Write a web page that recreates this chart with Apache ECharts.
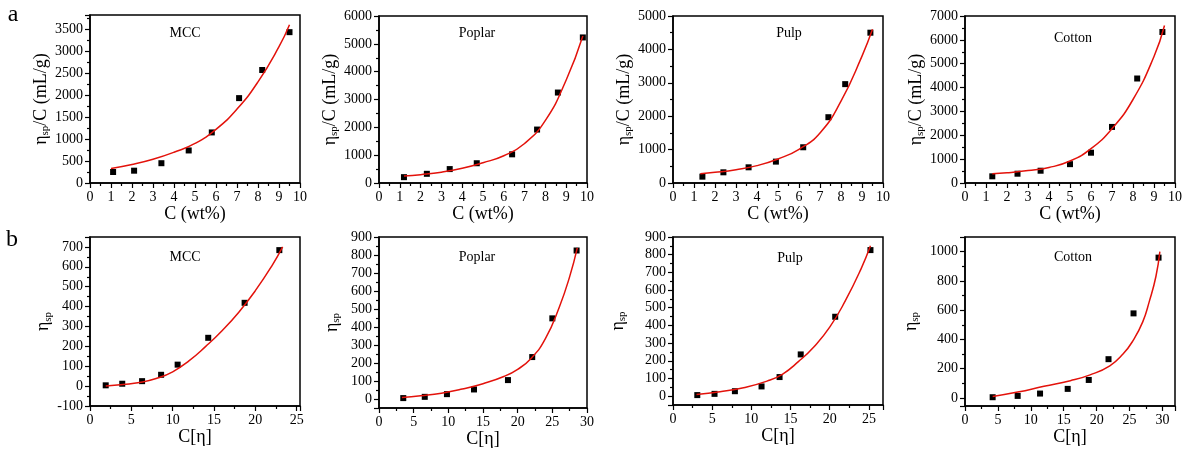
<!DOCTYPE html>
<html><head><meta charset="utf-8">
<script src="https://cdn.jsdelivr.net/npm/echarts@6/dist/echarts.min.js"></script>
<style>html,body{margin:0;padding:0;background:#fff}#c{width:1194px;height:456px}</style>
</head><body><div id="c"></div>
<script>
// ---------------- DATA ----------------
const panelNames = ['MCC', 'Poplar', 'Pulp', 'Cotton'];
const rowLetters = ['a', 'b'];

// Row a: eta_sp/C (mL/g) vs C (wt%)
const a_MCC_x = [1.1, 2.1, 3.4, 4.7, 5.8, 7.1, 8.2, 9.5];
const a_MCC_y = [250, 280, 450, 740, 1150, 1930, 2570, 3430];
const a_MCC_fitX = [1.0, 2, 3, 4, 5, 6, 7, 8, 9, 9.5];
const a_MCC_fitY = [330, 420, 540, 700, 900, 1220, 1680, 2300, 3100, 3600];

const a_Poplar_x = [1.2, 2.3, 3.4, 4.7, 6.4, 7.6, 8.6, 9.8];
const a_Poplar_y = [210, 330, 500, 710, 1030, 1920, 3250, 5230];
const a_Poplar_fitX = [1.2, 2, 3, 4, 5, 6, 7, 8, 9, 9.8];
const a_Poplar_fitY = [250, 300, 390, 530, 730, 980, 1420, 2250, 3700, 5280];

const a_Pulp_x = [1.4, 2.4, 3.6, 4.9, 6.2, 7.4, 8.2, 9.4];
const a_Pulp_y = [190, 320, 470, 640, 1070, 1970, 2960, 4500];
const a_Pulp_fitX = [1.3, 2, 3, 4, 5, 6, 7, 8, 9, 9.5];
const a_Pulp_fitY = [280, 320, 400, 520, 720, 1010, 1500, 2450, 3800, 4600];

const a_Cotton_x = [1.3, 2.5, 3.6, 5.0, 6.0, 7.0, 8.2, 9.4];
const a_Cotton_y = [280, 390, 515, 790, 1270, 2350, 4380, 6330];
const a_Cotton_fitX = [1.3, 2, 3, 4, 5, 6, 7, 8, 9, 9.5];
const a_Cotton_fitY = [390, 430, 520, 650, 920, 1440, 2280, 3500, 5300, 6600];

// Row b: eta_sp vs C[eta]
const b_MCC_x = [1.9, 3.9, 6.3, 8.6, 10.6, 14.3, 18.7, 22.9];
const b_MCC_y = [4, 12, 25, 57, 108, 243, 419, 684];
const b_MCC_fitX = [1.9, 4, 6, 8, 10, 12, 14, 16, 18, 20, 22, 23.3];
const b_MCC_fitY = [0, 8, 18, 38, 72, 128, 200, 280, 372, 480, 605, 700];

const b_Poplar_x = [3.5, 6.6, 9.8, 13.7, 18.6, 22.1, 25.0, 28.5];
const b_Poplar_y = [5, 12, 27, 53, 105, 233, 448, 825];
const b_Poplar_fitX = [3.3, 6, 9, 12, 15, 18, 20, 22, 24, 26, 27.5, 28.6];
const b_Poplar_fitY = [8, 18, 32, 55, 85, 125, 165, 228, 335, 510, 680, 840];

const b_Pulp_x = [3.1, 5.3, 7.9, 11.3, 13.6, 16.3, 20.7, 25.2];
const b_Pulp_y = [6, 13, 28, 55, 108, 236, 449, 826];
const b_Pulp_fitX = [3.0, 6, 9, 12, 14, 16, 18, 20, 22, 24, 25.2];
const b_Pulp_fitY = [9, 25, 48, 85, 125, 195, 280, 390, 540, 720, 850];

const b_Cotton_x = [4.2, 8.0, 11.4, 15.6, 18.8, 21.8, 25.6, 29.4];
const b_Cotton_y = [5, 14, 30, 62, 123, 265, 578, 959];
const b_Cotton_fitX = [4.2, 8, 12, 16, 19, 22, 24, 25.5, 27, 28, 29, 29.6];
const b_Cotton_fitY = [10, 40, 80, 118, 158, 220, 300, 390, 520, 660, 830, 1000];

// ---------------- LAYOUT ----------------
const panels = [
  { x: a_MCC_x, y: a_MCC_y, fx: a_MCC_fitX, fy: a_MCC_fitY },
  { x: a_Poplar_x, y: a_Poplar_y, fx: a_Poplar_fitX, fy: a_Poplar_fitY },
  { x: a_Pulp_x, y: a_Pulp_y, fx: a_Pulp_fitX, fy: a_Pulp_fitY },
  { x: a_Cotton_x, y: a_Cotton_y, fx: a_Cotton_fitX, fy: a_Cotton_fitY },
  { x: b_MCC_x, y: b_MCC_y, fx: b_MCC_fitX, fy: b_MCC_fitY },
  { x: b_Poplar_x, y: b_Poplar_y, fx: b_Poplar_fitX, fy: b_Poplar_fitY },
  { x: b_Pulp_x, y: b_Pulp_y, fx: b_Pulp_fitX, fy: b_Pulp_fitY },
  { x: b_Cotton_x, y: b_Cotton_y, fx: b_Cotton_fitX, fy: b_Cotton_fitY }
];

const cfg = [
  { grid: { left: 90,  top: 15,  width: 210, height: 168 }, xr: [0, 10, 1],   yr: [0, 3820, 500],   yGap: 39, lab: [185, 33] },
  { grid: { left: 379, top: 16,  width: 208, height: 167 }, xr: [0, 10, 1],   yr: [0, 6000, 1000],  yGap: 32, lab: [477, 33] },
  { grid: { left: 673, top: 16,  width: 210, height: 167 }, xr: [0, 10, 1],   yr: [0, 5000, 1000],  yGap: 34, lab: [789, 33] },
  { grid: { left: 965, top: 16,  width: 210, height: 167 }, xr: [0, 10, 1],   yr: [0, 7000, 1000],  yGap: 34, lab: [1073, 38] },
  { grid: { left: 90,  top: 237, width: 210, height: 169 }, xr: [0, 25.4, 5], yr: [-100, 750, 100], yGap: 33, lab: [185, 257] },
  { grid: { left: 379, top: 237, width: 208, height: 171 }, xr: [0, 30, 5],   yr: [-50, 900, 100],  yGap: 37, lab: [477, 257] },
  { grid: { left: 673, top: 237, width: 210, height: 168 }, xr: [0, 26.8, 5], yr: [-50, 900, 100],  yGap: 45, lab: [790, 258] },
  { grid: { left: 965, top: 237, width: 210, height: 169 }, xr: [0, 31.9, 5], yr: [-55, 1100, 200], yGap: 44, lab: [1073, 257] }
];

const FONT = 'Liberation Serif';
const RED = '#e3120b';

function stepFormatter(step) {
  return function (v) {
    const r = v / step;
    return Math.abs(r - Math.round(r)) < 1e-6 ? String(Math.round(v)) : '';
  };
}

const grid = [], xAxis = [], yAxis = [], series = [], graphic = [];

cfg.forEach((c, i) => {
  const rowA = i < 4;
  grid.push(Object.assign({ show: true, borderColor: '#000', borderWidth: 1.5, backgroundColor: 'transparent', containLabel: false }, c.grid));

  const axisCommon = {
    axisLine: { show: true, onZero: false, lineStyle: { color: '#000', width: 1.5 } },
    axisTick: { show: true, inside: false, length: 5, lineStyle: { color: '#000', width: 1.2 } },
    minorTick: { show: true, splitNumber: 2, length: 3, lineStyle: { color: '#000', width: 1.2 } },
    splitLine: { show: false },
    minorSplitLine: { show: false }
  };

  xAxis.push(Object.assign({
    type: 'value', gridIndex: i, min: c.xr[0], max: c.xr[1], interval: c.xr[2],
    name: rowA ? 'C (wt%)' : 'C[η]',
    nameLocation: 'middle', nameGap: rowA ? 21 : 18,
    nameTextStyle: { fontFamily: FONT, fontSize: 18, color: '#000' },
    axisLabel: { fontFamily: FONT, fontSize: 14, color: '#000', margin: 7, formatter: stepFormatter(c.xr[2]) }
  }, axisCommon));

  const y = {
    type: 'value', gridIndex: i, min: c.yr[0], max: c.yr[1],
    name: rowA ? '{n|η}{s|sp}{n|/C (mL/g)}' : '{n|η}{s|sp}',
    nameLocation: 'middle', nameRotate: 90, nameGap: c.yGap,
    nameTextStyle: {
      fontFamily: FONT, color: '#000',
      rich: {
        n: { fontFamily: FONT, fontSize: 18, lineHeight: 20, color: '#000' },
        s: { fontFamily: FONT, fontSize: 11, lineHeight: 10, verticalAlign: 'bottom', color: '#000' }
      }
    },
    axisLabel: { fontFamily: FONT, fontSize: 14, color: '#000', margin: 7, formatter: stepFormatter(c.yr[2]) }
  };
  if (c.yr[0] % c.yr[2] === 0) {
    y.interval = c.yr[2];
  } else {
    y.minInterval = c.yr[2];
    y.maxInterval = c.yr[2];
    y.splitNumber = Math.round((c.yr[1] - c.yr[0]) / c.yr[2]);
  }
  yAxis.push(Object.assign(y, axisCommon));

  const p = panels[i];
  series.push({
    type: 'scatter', xAxisIndex: i, yAxisIndex: i, symbol: 'rect', symbolSize: 6,
    itemStyle: { color: '#000', opacity: 1 }, z: 2,
    data: p.x.map((v, k) => [v, p.y[k]])
  });
  series.push({
    type: 'line', xAxisIndex: i, yAxisIndex: i, showSymbol: false, symbol: 'none',
    smooth: 0.5,
    lineStyle: { color: RED, width: 1.5 }, z: 3,
    data: p.fx.map((v, k) => [v, p.fy[k]])
  });

  graphic.push({
    type: 'text', x: c.lab[0], y: c.lab[1],
    style: { text: panelNames[i % 4], font: '14px "Liberation Serif"', fill: '#000', align: 'center', verticalAlign: 'middle' }
  });
});

graphic.push({ type: 'text', x: 13, y: 15, style: { text: rowLetters[0], font: '24px "Liberation Serif"', fill: '#000', align: 'center', verticalAlign: 'middle' } });
graphic.push({ type: 'text', x: 12, y: 240, style: { text: rowLetters[1], font: '24px "Liberation Serif"', fill: '#000', align: 'center', verticalAlign: 'middle' } });

const chart = echarts.init(document.getElementById('c'), null, { renderer: 'canvas' });
chart.setOption({
  animation: false,
  backgroundColor: '#fff',
  grid, xAxis, yAxis, series, graphic
});
</script>
</body></html>
